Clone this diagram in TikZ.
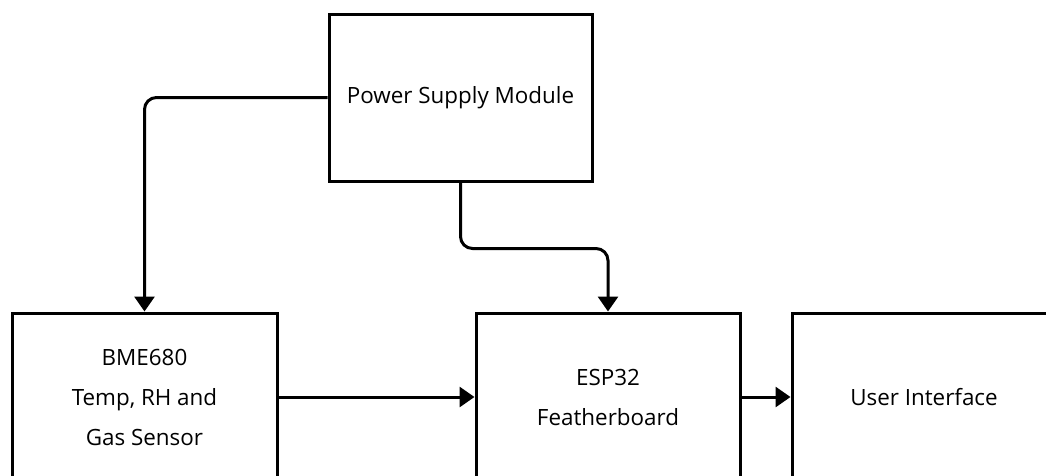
\documentclass[tikz,border=0pt]{standalone}
\usepackage{fontspec}
\setmainfont{Open Sans}
\usetikzlibrary{arrows.meta,positioning}
\begin{document}
\begin{tikzpicture}[x=1pt,y=-1pt,
  blockbox/.style={draw=black,line width=3pt,rectangle,align=center,font=\fontsize{22.4}{40}\selectfont,inner sep=0pt},
  conn/.style={draw=black,line width=3pt,rounded corners=12pt,-{Triangle[width=20pt,length=15pt]}}]
\useasboundingbox (0,0) rectangle (1046,475);
\clip (0,0) rectangle (1046,475);
\node[blockbox,minimum width=263pt,minimum height=167pt] (pw) at (460.5,97.5) {Power Supply Module};
\node[blockbox,minimum width=265pt,minimum height=168pt] (bme) at (144.5,397) {BME680\\Temp, RH and\\Gas Sensor};
\node[blockbox,minimum width=264pt,minimum height=168pt] (esp) at (608,397) {ESP32\\Featherboard};
\node[blockbox,minimum width=264pt,minimum height=168pt] (ui) at (924,397) {User Interface};
\draw[conn] (pw.west) -| (bme.north);
\draw[conn] (pw.south) -- ++(0,66) -| (esp.north);
\draw[conn] (bme.east) -- (esp.west);
\draw[conn] (esp.east) -- (ui.west);
\end{tikzpicture}
\end{document}
